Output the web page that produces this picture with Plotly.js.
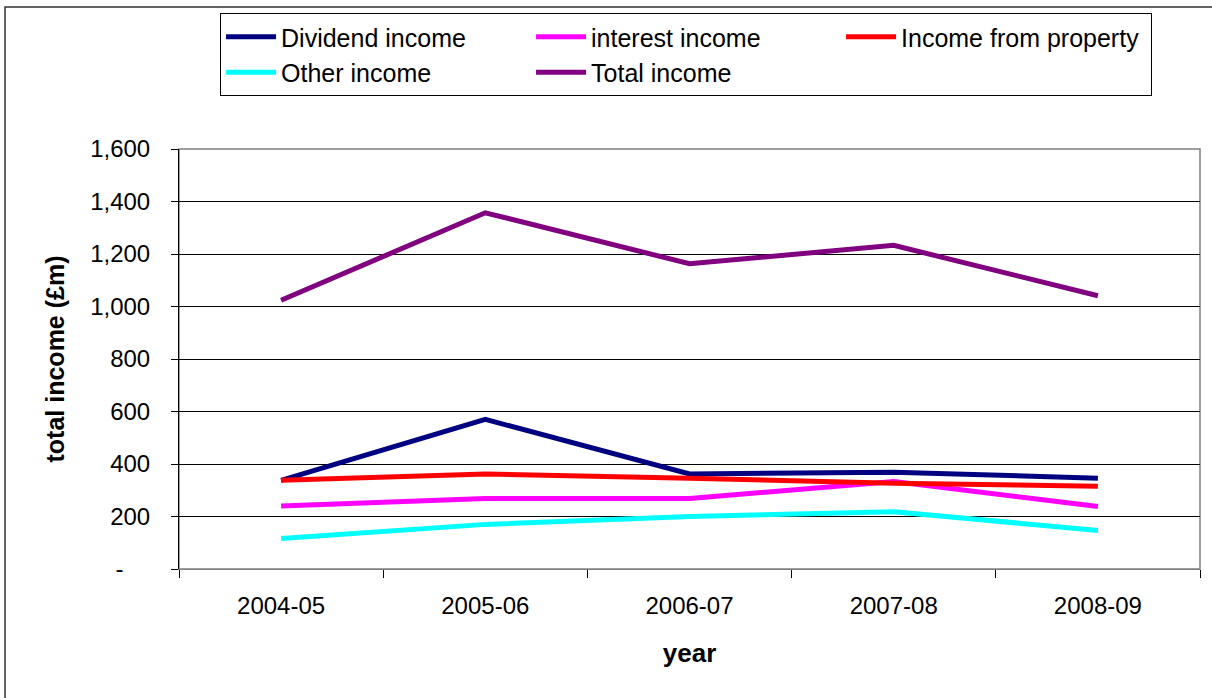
<!DOCTYPE html>
<html>
<head>
<meta charset="utf-8">
<script src="https://cdn.plot.ly/plotly-3.0.1.min.js"></script>
<style>
  html, body { margin: 0; padding: 0; background: #ffffff; }
  #chart { width: 1212px; height: 698px; }
</style>
</head>
<body>
<div id="chart"></div>
<script>
// Income by source, £m
const years = ['2004-05', '2005-06', '2006-07', '2007-08', '2008-09'];
const dividendIncome = [338, 570, 362, 369, 346];
const interestIncome = [240, 269, 269, 333, 238];
const propertyIncome = [338, 362, 346, 327, 315];
const otherIncome = [116, 170, 200, 218, 147];
const totalIncome = [1024, 1357, 1163, 1233, 1041];

const yTickValues = [0, 200, 400, 600, 800, 1000, 1200, 1400, 1600];
const yTickLabels = ['-\u00a0\u00a0\u00a0\u00a0', '200', '400', '600', '800', '1,000', '1,200', '1,400', '1,600'];

const FONT = 'Arial, "Liberation Sans", sans-serif';

function series(name, values, color) {
  return {
    type: 'scatter',
    mode: 'lines',
    name: name,
    x: years,
    y: values,
    line: { color: color, width: 5 },
    hoverinfo: 'x+y+name'
  };
}

const traces = [
  series('Dividend income', dividendIncome, '#000080'),
  series('interest income', interestIncome, '#ff00ff'),
  series('Income from property', propertyIncome, '#ff0000'),
  series('Other income', otherIncome, '#00ffff'),
  series('Total income', totalIncome, '#800080')
];

const layout = {
  width: 1212,
  height: 698,
  margin: { l: 179, r: 12, t: 149, b: 129, pad: 0 },
  paper_bgcolor: '#ffffff',
  plot_bgcolor: '#ffffff',
  font: { family: FONT, color: '#000000', size: 22 },
  showlegend: true,
  legend: {
    orientation: 'h',
    x: 0.0402,
    xanchor: 'left',
    y: 1.3238,
    yanchor: 'top',
    bgcolor: '#ffffff',
    bordercolor: '#000000',
    borderwidth: 1,
    font: { family: FONT, size: 25, color: '#000000' },
    itemwidth: 50,
    entrywidth: 245,
    entrywidthmode: 'pixels',
    itemclick: false,
    itemdoubleclick: false
  },
  xaxis: {
    type: 'category',
    range: [-0.5, 4.5],
    tickson: 'boundaries',
    ticks: 'outside',
    ticklen: 8,
    tickcolor: '#000000',
    tickwidth: 1,
    showline: true,
    linecolor: '#808080',
    linewidth: 1,
    showgrid: false,
    zeroline: false,
    tickfont: { family: FONT, size: 24, color: '#000000' },
    ticklabelstandoff: 15,
    title: {
      text: '<b>year</b>',
      font: { family: FONT, size: 26, color: '#000000' },
      standoff: 26
    },
    fixedrange: true
  },
  yaxis: {
    range: [0, 1600],
    tickmode: 'array',
    tickvals: yTickValues,
    ticktext: yTickLabels,
    ticks: 'outside',
    ticklen: 7,
    tickcolor: '#000000',
    tickwidth: 1,
    showline: true,
    linecolor: '#000000',
    linewidth: 1,
    showgrid: true,
    gridcolor: '#000000',
    gridwidth: 1,
    zeroline: false,
    tickfont: { family: FONT, size: 24, color: '#000000' },
    ticklabelstandoff: 16,
    title: {
      text: '<b>total income (£m)</b>',
      font: { family: FONT, size: 25, color: '#000000' },
      standoff: 18
    },
    fixedrange: true
  },
  shapes: [
    {
      type: 'rect', xref: 'paper', yref: 'paper',
      x0: 0, x1: 1, y0: 0, y1: 1,
      line: { color: '#808080', width: 1.5 },
      layer: 'below'
    },
    {
      type: 'rect', xref: 'paper', yref: 'paper',
      x0: -0.1704, x1: 1.1, y0: -0.5, y1: 1.338,
      line: { color: '#333333', width: 1.5 },
      layer: 'below'
    }
  ]
};

Plotly.newPlot('chart', traces, layout, { displayModeBar: false, staticPlot: true });
</script>
</body>
</html>
